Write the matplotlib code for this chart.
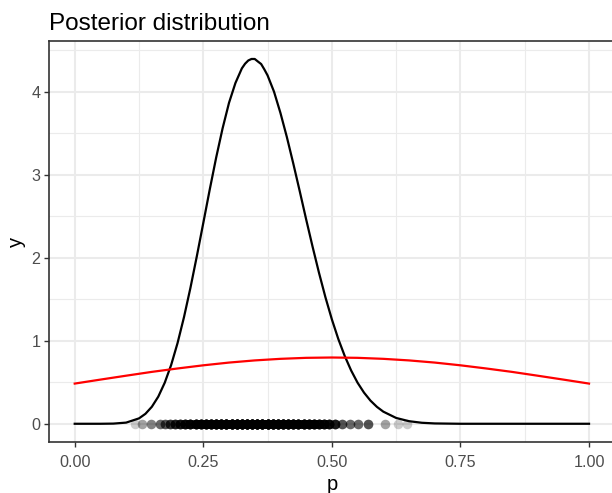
import numpy as np
import matplotlib
matplotlib.use("Agg")
import matplotlib.pyplot as plt
from matplotlib.ticker import MultipleLocator

# ---- data ----
post_x = [0.0, 0.025, 0.05, 0.075, 0.1, 0.125, 0.1375, 0.15, 0.1625, 0.175, 0.1875,
          0.2, 0.2125, 0.225, 0.2375, 0.25, 0.2625, 0.275, 0.2875, 0.3, 0.3125,
          0.325, 0.33125, 0.3375, 0.34375, 0.35, 0.35625, 0.3625, 0.36875, 0.375,
          0.3875, 0.4, 0.4125, 0.425, 0.4375,
          0.45, 0.4625, 0.475, 0.4875, 0.5, 0.5125, 0.525, 0.5375, 0.55, 0.5625,
          0.575, 0.5875, 0.6, 0.625, 0.65, 0.675, 0.7, 0.75, 0.8, 0.9, 1.0]
post_y = [0.0, 0.0, 0.0, 0.002, 0.014, 0.065, 0.120, 0.205, 0.327, 0.494, 0.708,
          0.973, 1.285, 1.637, 2.020, 2.418, 2.820, 3.205, 3.557, 3.865, 4.104,
          4.280, 4.336, 4.375, 4.393, 4.393, 4.362, 4.332, 4.267, 4.195,
          3.999, 3.743, 3.452, 3.133, 2.801,
          2.461, 2.132, 1.817, 1.523, 1.257, 1.021, 0.816, 0.641, 0.494, 0.375,
          0.279, 0.204, 0.146, 0.070, 0.031, 0.012, 0.004, 0.0, 0.0, 0.0, 0.0]

prior_x = [0.0, 0.05, 0.1, 0.15, 0.2, 0.25, 0.3, 0.35, 0.4, 0.45, 0.5,
           0.55, 0.6, 0.65, 0.7, 0.75, 0.8, 0.85, 0.9, 0.95, 1.0]
prior_y = [0.484, 0.532, 0.579, 0.625, 0.666, 0.704, 0.737, 0.763, 0.782, 0.794, 0.798,
           0.794, 0.782, 0.763, 0.737, 0.704, 0.666, 0.625, 0.579, 0.532, 0.484]

# posterior samples (rug at y = 0): positions and how many samples sit at each
sample_pos = [0.117, 0.131, 0.148, 0.165, 0.175, 0.185, 0.195, 0.205, 0.215, 0.225,
              0.235, 0.245, 0.255, 0.265, 0.275, 0.285, 0.295, 0.305, 0.315, 0.325,
              0.335, 0.345, 0.355, 0.365, 0.375, 0.385, 0.395, 0.405, 0.415, 0.425,
              0.435, 0.445, 0.455, 0.465, 0.475, 0.485, 0.495, 0.506, 0.520, 0.536,
              0.551, 0.571, 0.604, 0.629, 0.647]
sample_count = [1, 2, 3, 4, 5, 7, 9, 11, 14, 17, 20, 23, 26, 29, 32, 35, 38, 40, 42, 43,
                44, 44, 44, 43, 42, 40, 38, 36, 34, 31, 29, 26, 23, 21, 18, 16, 14, 10, 5, 4,
                4, 5, 2, 1, 1]

x_ticks = [0.00, 0.25, 0.50, 0.75, 1.00]
x_tick_labels = ["0.00", "0.25", "0.50", "0.75", "1.00"]
y_ticks = [0, 1, 2, 3, 4]

# ---- figure ----
plt.rcParams['font.family'] = ['Liberation Sans', 'DejaVu Sans']
W, H = 612, 493
fig = plt.figure(figsize=(W / 100, H / 100), dpi=100)

left_px, right_px, top_px, bottom_px = 49, 614.75, 41, 442
ax = fig.add_axes([left_px / W, (H - bottom_px) / H,
                   (right_px - left_px) / W, (bottom_px - top_px) / H])

ax.set_xlim(-0.05, 1.05)
ax.set_ylim(-0.2195, 4.6095)

# grid
ax.xaxis.set_major_locator(plt.FixedLocator(x_ticks))
ax.yaxis.set_major_locator(plt.FixedLocator(y_ticks))
ax.xaxis.set_minor_locator(MultipleLocator(0.125))
ax.yaxis.set_minor_locator(MultipleLocator(0.5))
ax.grid(which='minor', color='#EBEBEB', linewidth=0.8)
ax.grid(which='major', color='#EBEBEB', linewidth=1.5)
ax.set_axisbelow(True)
ax.tick_params(which='minor', length=0)

xs = np.repeat(np.array(sample_pos), sample_count)
ax.scatter(xs, np.zeros_like(xs), s=47, color='black', alpha=0.2, linewidths=0, zorder=2)

ax.plot(post_x, post_y, color='black', linewidth=1.6, zorder=3)
ax.plot(prior_x, prior_y, color='red', linewidth=1.6, zorder=3)

ax.set_xticks(x_ticks)
ax.set_xticklabels(x_tick_labels)
ax.set_yticks(y_ticks)
ax.tick_params(which='major', length=3.6, width=1.0, color='#333333',
               labelcolor='#4D4D4D', labelsize=11.6, pad=2.5)
ax.tick_params(axis='x', which='major', pad=5.5)

for s in ax.spines.values():
    s.set_color('#333333')
    s.set_linewidth(1.2)

ax.set_xlabel('p', fontsize=14.5, labelpad=4)
ax.set_ylabel('y', fontsize=14.5, labelpad=4)
ax.set_title('Posterior distribution', fontsize=17.5, loc='left', pad=8)

fig.savefig('out.png', dpi=100)
